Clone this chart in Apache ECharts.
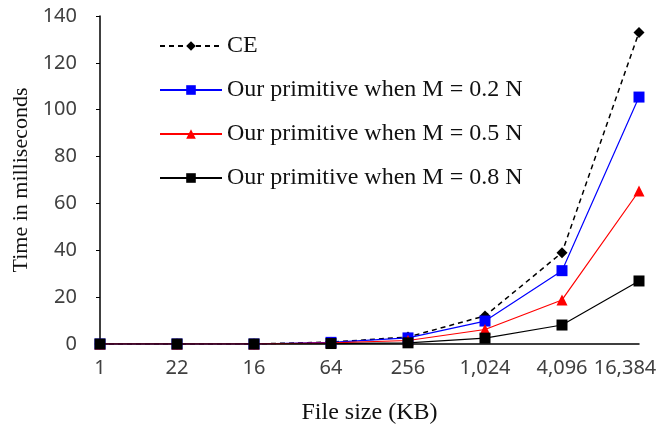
<!DOCTYPE html>
<html><head><meta charset="utf-8">
<script src="https://cdn.jsdelivr.net/npm/echarts@6/dist/echarts.min.js"></script>
<style>html,body{margin:0;padding:0;background:#fff}#c{width:670px;height:426px}</style>
</head><body><div id="c"></div>
<script>
var categories = ['1','22','16','64','256','1,024','4,096','16,384'];
var ceValues   = [0, 0, 0, 0.8, 3, 12, 39, 133];
var m02Values  = [0, 0, 0, 0.7, 2.6, 9.8, 31.3, 105.4];
var m05Values  = [0, 0, 0, 0.5, 1.5, 6.2, 18.8, 65.3];
var m08Values  = [0, 0, 0, 0.2, 0.5, 2.5, 8.1, 26.9];
var seriesNames = ['CE','Our primitive when M = 0.2 N','Our primitive when M = 0.5 N','Our primitive when M = 0.8 N'];
var yTicks = [0,20,40,60,80,100,120,140];

var chart = echarts.init(document.getElementById('c'));
var serif = '"Liberation Serif","DejaVu Serif",serif';
var sans = '"Noto Sans","DejaVu Sans",sans-serif';
chart.setOption({
  animation: false,
  backgroundColor: '#fff',
  grid: {left: 100, right: 31, top: 16, bottom: 82, containLabel: false, outerBoundsMode: 'none'},
  legend: {
    orient: 'vertical', left: 154, top: 29,
    itemWidth: 62, itemHeight: 12, itemGap: 20,
    textStyle: {fontFamily: serif, fontSize: 24, color: '#111', lineHeight: 24},
    data: seriesNames
  },
  xAxis: {
    type: 'category', data: categories, boundaryGap: false,
    name: 'File size (KB)', nameLocation: 'middle', nameGap: 57,
    nameTextStyle: {fontFamily: serif, fontSize: 24, color: '#111'},
    axisLine: {lineStyle: {color: '#000', width: 1.5}},
    axisTick: {show: false},
    axisLabel: {fontFamily: sans, fontSize: 20, color: '#404040', margin: 14, interval: 0,
      formatter: function(v, i){ return i === categories.length - 1 ? '{last|' + v + '}' : v; },
      rich: {last: {fontFamily: sans, fontSize: 20, color: '#404040', padding: [0, 28, 0, 0]}}}
  },
  yAxis: {
    type: 'value', min: 0, max: 140, interval: 20,
    name: 'Time in milliseconds', nameLocation: 'middle', nameGap: 67, nameRotate: 90,
    nameTextStyle: {fontFamily: serif, fontSize: 22, color: '#111'},
    axisLine: {show: true, lineStyle: {color: '#000', width: 1.5}},
    axisTick: {show: true, inside: false, length: 4, lineStyle: {color: '#000'}},
    splitLine: {show: false},
    axisLabel: {fontFamily: sans, fontSize: 20, color: '#404040', margin: 23,
      formatter: function(v){ return yTicks.indexOf(v) >= 0 ? String(v) : ''; }}
  },
  series: [
    {name: seriesNames[0], type: 'line', data: ceValues, symbol: 'diamond', symbolSize: 11,
     itemStyle: {color: '#000'}, lineStyle: {color: '#000', width: 1.5, type: [5,4]}, z: 2},
    {name: seriesNames[1], type: 'line', data: m02Values, symbol: 'rect', symbolSize: 11,
     itemStyle: {color: '#0000ff'}, lineStyle: {color: '#0000ff', width: 1.2}, z: 3},
    {name: seriesNames[2], type: 'line', data: m05Values, symbol: 'triangle', symbolSize: 11,
     itemStyle: {color: '#ff0000'}, lineStyle: {color: '#ff0000', width: 1.2}, z: 4},
    {name: seriesNames[3], type: 'line', data: m08Values, symbol: 'rect', symbolSize: 11,
     itemStyle: {color: '#000'}, lineStyle: {color: '#000', width: 1.2}, z: 5}
  ]
});
</script></body></html>
